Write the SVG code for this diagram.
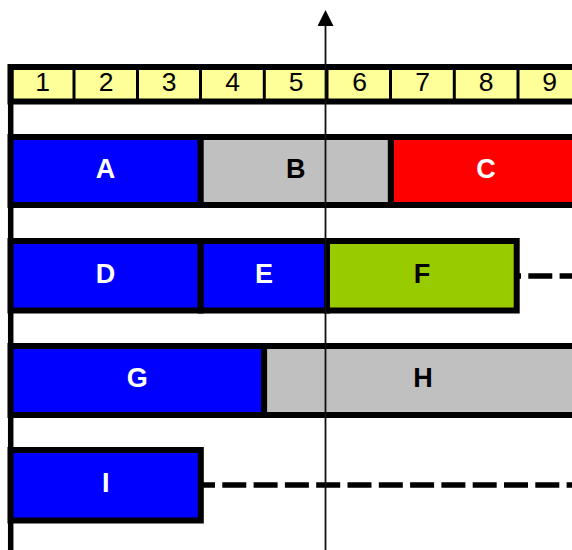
<svg xmlns="http://www.w3.org/2000/svg" width="572" height="550" viewBox="0 0 572 550">
<style>
.box{stroke:#000;stroke-width:6}
.blue{fill:#0000FF}
.gray{fill:#C0C0C0}
.red{fill:#FF0000}
.green{fill:#99CC00}
.lbl{font-family:"Liberation Sans",Arial,sans-serif;font-weight:bold;font-size:27px;text-anchor:middle}
.w{fill:#FFFFFF}
.k{fill:#000000}
.num{font-family:"Liberation Sans",Arial,sans-serif;font-size:26.5px;text-anchor:middle;fill:#000}
.div{stroke:#000;stroke-width:3}
.dash{stroke:#000;stroke-width:5.5;stroke-dasharray:24 7.3;fill:none}
</style>
<defs>
<marker id="arr" markerWidth="16" markerHeight="16" viewBox="0 0 16 16" refX="0" refY="8" orient="auto-start-reverse" markerUnits="userSpaceOnUse">
<path d="M0,0 L16,8 L0,16 Z" fill="#000"/>
</marker>
</defs>
<rect width="572" height="550" fill="#fff"/>
<g id="connectors">
<line class="dash" x1="497" y1="276" x2="600" y2="276"/>
<line class="dash" x1="191" y1="485" x2="600" y2="485"/>
</g>
<g id="header">
<rect x="10.5" y="67" width="600" height="34.5" fill="#FFFF99" stroke="#000" stroke-width="6"/>
<line class="div" x1="74" y1="70" x2="74" y2="99"/>
<line class="div" x1="137.5" y1="70" x2="137.5" y2="99"/>
<line class="div" x1="200.5" y1="70" x2="200.5" y2="99"/>
<line class="div" x1="264.3" y1="70" x2="264.3" y2="99"/>
<line class="div" x1="327" y1="70" x2="327" y2="99"/>
<line class="div" x1="390.5" y1="70" x2="390.5" y2="99"/>
<line class="div" x1="454.3" y1="70" x2="454.3" y2="99"/>
<line class="div" x1="518" y1="70" x2="518" y2="99"/>
<text class="num" x="42.5" y="91">1</text>
<text class="num" x="106" y="91">2</text>
<text class="num" x="169" y="91">3</text>
<text class="num" x="232.5" y="91">4</text>
<text class="num" x="296" y="91">5</text>
<text class="num" x="359.5" y="91">6</text>
<text class="num" x="422.5" y="91">7</text>
<text class="num" x="486" y="91">8</text>
<text class="num" x="549.5" y="91">9</text>
</g>
<line x1="10.7" y1="64" x2="10.7" y2="550" stroke="#000" stroke-width="5.5"/>
<g id="A"><rect class="box blue" x="10.5" y="137" width="190.2" height="68"/><text class="lbl w" x="105.6" y="178">A</text></g>
<g id="B"><rect class="box gray" x="200.7" y="137" width="190.2" height="68"/><text class="lbl k" x="295.8" y="178">B</text></g>
<g id="C"><rect class="box red" x="390.9" y="137" width="190.2" height="68"/><text class="lbl w" x="486" y="178">C</text></g>
<g id="D"><rect class="box blue" x="10.5" y="241" width="190.2" height="69.5"/><text class="lbl w" x="105.6" y="283">D</text></g>
<g id="E"><rect class="box blue" x="200.7" y="241" width="126.3" height="69.5"/><text class="lbl w" x="264" y="283">E</text></g>
<g id="F"><rect class="box green" x="327" y="241" width="189.7" height="69.5"/><text class="lbl k" x="422" y="283">F</text></g>
<g id="G"><rect class="box blue" x="10.5" y="346" width="253.6" height="69"/><text class="lbl w" x="137.3" y="387">G</text></g>
<g id="H"><rect class="box gray" x="264.1" y="346" width="318" height="69"/><text class="lbl k" x="423" y="387">H</text></g>
<g id="I"><rect class="box blue" x="10.5" y="450" width="190.3" height="70.5"/><text class="lbl w" x="105.7" y="492">I</text></g>
<g id="now">
<line x1="325.5" y1="26" x2="325.5" y2="550" stroke="#111" stroke-width="1.8" marker-start="url(#arr)"/>
</g>
</svg>
